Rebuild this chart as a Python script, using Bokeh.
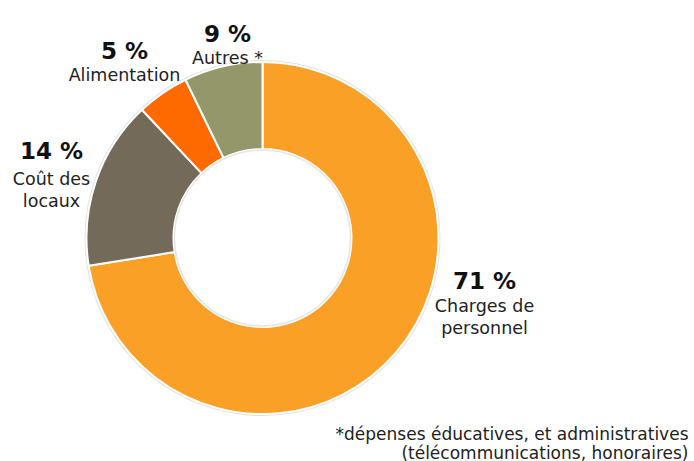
import math
from bokeh.plotting import figure
from bokeh.models import Range1d, ColumnDataSource
from bokeh.core.properties import value
from bokeh.embed import file_html
from bokeh.resources import INLINE

# ---- data ----
categories = ["Charges de personnel", "Coût des locaux", "Alimentation", "Autres *"]
shares = [72.4, 15.5, 4.8, 7.2]          # slice sizes as drawn
pct_labels = ["71 %", "14 %", "5 %", "9 %"]  # printed labels
name_lines = [["Charges de", "personnel"], ["Coût des", "locaux"], ["Alimentation"], ["Autres *"]]
colors = ["#FBA026", "#736A5A", "#FF6A00", "#939769"]
footnote = ["*dépenses éducatives, et administratives", "(télécommunications, honoraires)"]

# ---- layout (page pixel coords -> data) ----
W, H = 694, 461
def Y(py):
    return H - py

p = figure(width=W, height=H, output_backend="svg", toolbar_location=None,
           x_range=Range1d(0, W), y_range=Range1d(0, H),
           min_border=0, outline_line_color=None)
p.axis.visible = False
p.grid.visible = False
p.background_fill_color = "white"

cx, cy = 262, Y(237.5)
r_in, r_out = 89, 176

total = sum(shares)
starts, ends = [], []
cum = 0.0
for s in shares:
    starts.append(math.pi / 2 - 2 * math.pi * cum / total)
    cum += s
    ends.append(math.pi / 2 - 2 * math.pi * cum / total)

# subtle shadow rings
p.circle(x=[cx], y=[cy], radius=r_out + 1, fill_color=None, line_color="#e2e2e2", line_width=2)

src = ColumnDataSource(dict(start=starts, end=ends, color=colors, cat=categories))
p.annular_wedge(x=cx, y=cy, inner_radius=r_in, outer_radius=r_out,
                start_angle="start", end_angle="end", direction="clock",
                fill_color="color", line_color="white", line_width=2, source=src)
p.circle(x=[cx], y=[cy], radius=r_in - 1, fill_color=None, line_color="#e6e6e6", line_width=1.5)

FONT = value("DejaVu Sans")

# label anchors (center x, baseline of pct line, baseline of first name line)
label_pos = [(484, 280, 305), (51, 150, 178), (124, 50, 74), (227, 33, 57)]
for i, (lx, pb, nb) in enumerate(label_pos):
    p.text(x=[lx], y=[Y(pb)], text=[pct_labels[i]], text_font=FONT, text_font_size="23px",
           text_font_style="bold", text_color="#111111", text_align="center",
           text_baseline="alphabetic")
    for j, line in enumerate(name_lines[i]):
        p.text(x=[lx], y=[Y(nb + 22 * j)], text=[line], text_font=FONT, text_font_size="17.5px",
               text_color="#222222", text_align="center", text_baseline="alphabetic")

for j, line in enumerate(footnote):
    p.text(x=[688], y=[Y(433 + 19 * j)], text=[line], text_font=FONT, text_font_size="17px",
           text_color="#222222", text_align="right", text_baseline="alphabetic")

open("out.html", "w").write(file_html(p, INLINE))
